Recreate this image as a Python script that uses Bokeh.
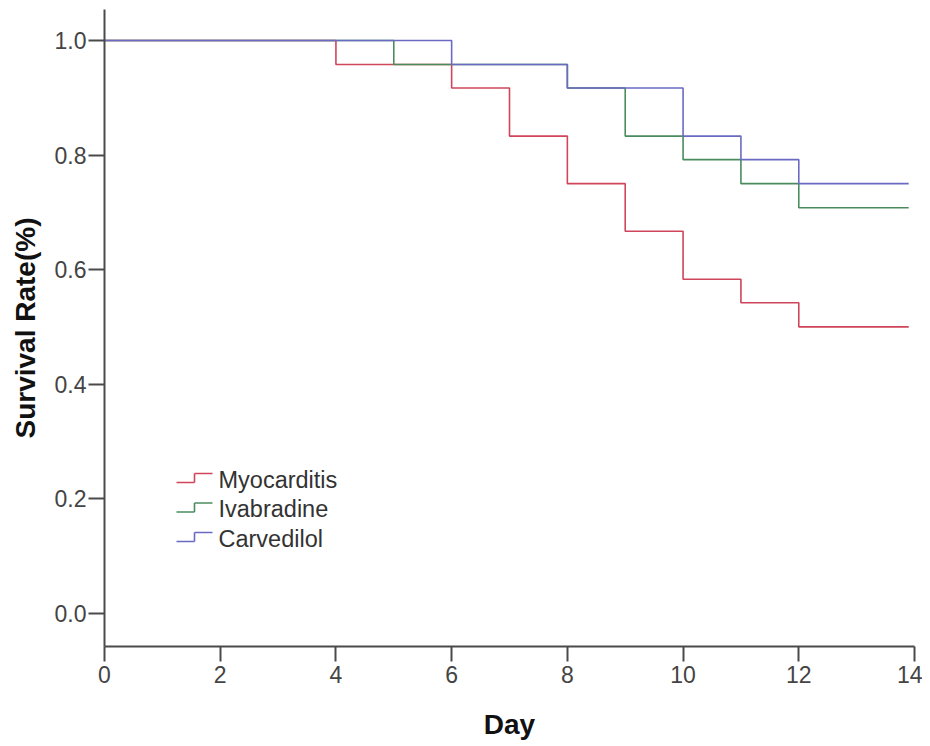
from bokeh.plotting import figure
from bokeh.models import Range1d, FixedTicker, NumeralTickFormatter, Label, Arrow
from bokeh.embed import file_html
from bokeh.resources import INLINE

# ---- data (Kaplan-Meier steps) ----
series_names = ["Myocarditis", "Ivabradine", "Carvedilol"]
series_colors = ["#d0455a", "#4a8c5e", "#6a6ac4"]

myo_day = [0, 4, 6, 7, 8, 9, 10, 11, 12, 13.9]
myo_surv = [1.0, 0.958, 0.917, 0.833, 0.750, 0.667, 0.583, 0.542, 0.500, 0.500]

iva_day = [0, 5, 8, 9, 10, 11, 12, 13.9]
iva_surv = [1.0, 0.958, 0.917, 0.833, 0.792, 0.750, 0.708, 0.708]

car_day = [0, 6, 8, 10, 11, 12, 13.9]
car_surv = [1.0, 0.958, 0.917, 0.833, 0.792, 0.750, 0.750]

x_ticks = [0, 2, 4, 6, 8, 10, 12, 14]
y_ticks = [0.0, 0.2, 0.4, 0.6, 0.8, 1.0]

FONT = "Liberation Sans"
AXIS_COL = "#4a4a4a"

p = figure(width=922, height=743, output_backend="svg", toolbar_location=None,
           x_range=Range1d(0, 14), y_range=Range1d(-0.058, 1.054),
           min_border_left=104, min_border_right=8, min_border_top=9, min_border_bottom=97)
p.outline_line_color = None
p.xgrid.visible = False
p.ygrid.visible = False
p.background_fill_color = "white"
p.border_fill_color = "white"

data = [(myo_day, myo_surv), (iva_day, iva_surv), (car_day, car_surv)]
for (d, s), c in zip(data, series_colors):
    p.step(d, s, mode="after", line_color=c, line_width=1.6)

for ax in (p.xaxis[0], p.yaxis[0]):
    ax.axis_line_color = AXIS_COL
    ax.axis_line_width = 2
    ax.major_tick_line_color = AXIS_COL
    ax.major_tick_line_width = 2
    ax.minor_tick_line_color = None
    ax.major_tick_in = 0
    ax.major_label_text_font = FONT
    ax.major_label_text_font_size = "23px"
    ax.major_label_text_color = "#444444"
    ax.axis_label_text_font = FONT
    ax.axis_label_text_font_style = "bold"
    ax.axis_label_text_font_size = "28px"
    ax.axis_label_text_color = "#111111"

p.xaxis.ticker = FixedTicker(ticks=x_ticks)
p.yaxis.ticker = FixedTicker(ticks=y_ticks)
p.yaxis.formatter = NumeralTickFormatter(format="0.0")
p.xaxis.major_tick_out = 15
p.yaxis.major_tick_out = 16
p.xaxis.major_label_standoff = 4
p.yaxis.major_label_standoff = 2
p.xaxis.axis_label = "Day"
p.yaxis.axis_label = "Survival Rate(%)"
p.xaxis.axis_label_standoff = 23
p.yaxis.axis_label_standoff = 11

# ---- legend with step-shaped icons (screen units, relative to frame) ----
row0 = 164.0   # low line of first icon, px above frame bottom
gap = 29.5
for i, (name, c) in enumerate(zip(series_names, series_colors)):
    low = row0 - i * gap
    high = low + 9
    segs = [(72, low, 90, low), (90, low, 90, high), (90, high, 108, high)]
    for x0, y0, x1, y1 in segs:
        p.add_layout(Arrow(end=None, start=None, x_start=x0, y_start=y0, x_end=x1, y_end=y1,
                           start_units="screen", end_units="screen",
                           line_color=c, line_width=1.6))
    p.add_layout(Label(x=114, y=low + 3, x_units="screen", y_units="screen", text=name,
                       text_font=FONT, text_font_size="23.5px", text_color="#333333",
                       text_baseline="middle"))

open("out.html", "w").write(file_html(p, INLINE))
